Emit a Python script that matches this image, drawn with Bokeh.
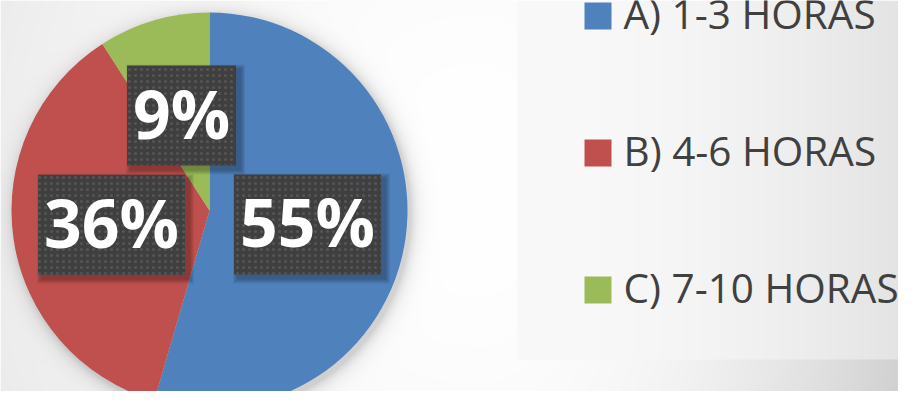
import numpy as np
from bokeh.plotting import figure
from bokeh.models import Range1d, ColumnDataSource
from bokeh.core.properties import value
from bokeh.embed import file_html
from bokeh.resources import INLINE

# ---------------- data ----------------
categories = ["A) 1-3 HORAS", "B) 4-6 HORAS", "C) 7-10 HORAS"]
shares = [54.5, 36.4, 9.1]
labels = ["55%", "36%", "9%"]
colors = ["#4F81BD", "#C0504D", "#9BBB59"]

# ---------------- layout constants (reference pixels) ----------------
W, H = 914, 407              # reference canvas
PW, PH = 898, 391            # plot size that fits the window (1 px per unit)
CX, CY, R = 209, 210, 198          # pie centre / radius (y measured from top)
LEG_X0, LEG_Y1 = 517, 359          # legend panel left edge / bottom edge
SW_X, SW_Y0, SW_STEP, SW = 597.5, 15.5, 137, 27
TXT_X = 623

p = figure(width=PW, height=PH,
           x_range=Range1d(0, PW), y_range=Range1d(H - PH, H),
           output_backend="svg", toolbar_location=None,
           x_axis_type=None, y_axis_type=None, min_border=0,
           outline_line_color=None)
p.xgrid.visible = False
p.ygrid.visible = False
p.background_fill_color = "white"
p.border_fill_color = "white"

# ---------------- background gradient (decorative) ----------------
xs = np.arange(W) + 0.5
ys_ref = H - (np.arange(H) + 0.5)
X, Y = np.meshgrid(xs, ys_ref)
dx = X - 480.0
dx = np.where(dx > 0, dx * 1.85, dx)
dy = Y - 180.0
g = 255.0 - 7.2e-5 * (dx ** 2 + dy ** 2)
inside = (X >= LEG_X0) & (Y <= LEG_Y1)
t = (X - LEG_X0) / (W - LEG_X0)
g = np.where(inside, 249.0 - 23.0 * t ** 2, g)
# soft pie shadow
d = np.hypot(X - (CX + 3), Y - (CY + 4))
shade = np.where(d > R, 0.17 * np.exp(-(d - R) / 7.0), 0.17)
g = g * (1 - shade)
g = np.clip(g, 0, 255).astype(np.uint8)
rgba = np.empty((H, W, 4), dtype=np.uint8)
rgba[..., 0] = g
rgba[..., 1] = g
rgba[..., 2] = g
rgba[..., 3] = 255
img = rgba.view(dtype=np.uint32).reshape((H, W))
p.image_rgba(image=[img], x=0, y=0, dw=W, dh=H)

# ---------------- pie ----------------
frac = np.array(shares) / np.sum(shares)
cum = np.concatenate([[0.0], np.cumsum(frac)])
start = np.pi / 2 - 2 * np.pi * cum[:-1]
end = np.pi / 2 - 2 * np.pi * cum[1:]
pie_src = ColumnDataSource(dict(start=list(start), end=list(end), color=colors,
                                cat=categories))
p.wedge(x=CX, y=H - CY, radius=R, start_angle="start", end_angle="end",
        direction="clock", fill_color="color", line_color=None, source=pie_src)

# ---------------- data labels ----------------
mid = (start + end) / 2
lx = CX + 0.5 * R * np.cos(mid)
ly = (H - CY) + 0.5 * R * np.sin(mid)
bw = [38 * len(s) + 33 for s in labels]
bh = [100] * len(labels)
lab_src = ColumnDataSource(dict(x=list(lx), y=list(ly), w=bw, h=bh, text=labels))
for i in range(1, 6):
    p.rect(x=[v + 4 for v in lx], y=[v - 4 for v in ly],
           width=[v + 2 * i for v in bw], height=[v + 2 * i for v in bh],
           fill_color="black", fill_alpha=0.06, line_color=None)
p.rect(x="x", y="y", width="w", height="h", source=lab_src,
       fill_color="#3f3f3f", line_color=None,
       hatch_pattern="dot", hatch_color="#555555", hatch_scale=6, hatch_weight=2)
p.text(x="x", y="y", text="text", source=lab_src, text_align="center",
       text_baseline="middle", text_color="white",
       text_font=value("Open Sans"), text_font_style="bold",
       text_font_size="66px", y_offset=-3)

# ---------------- legend ----------------
leg_y = [H - (SW_Y0 + SW_STEP * i) for i in range(len(categories))]
leg_src = ColumnDataSource(dict(x=[SW_X] * len(categories), y=leg_y,
                                tx=[TXT_X] * len(categories),
                                color=colors, text=categories))
p.rect(x="x", y="y", width=SW, height=SW, fill_color="color", line_color=None,
       source=leg_src)
p.text(x="tx", y="y", text="text", source=leg_src, text_align="left",
       text_baseline="middle", text_color="#404040",
       text_font=value("Open Sans"), text_font_size="40.5px",
       y_offset=-3)

open("out.html", "w").write(file_html(p, INLINE))
